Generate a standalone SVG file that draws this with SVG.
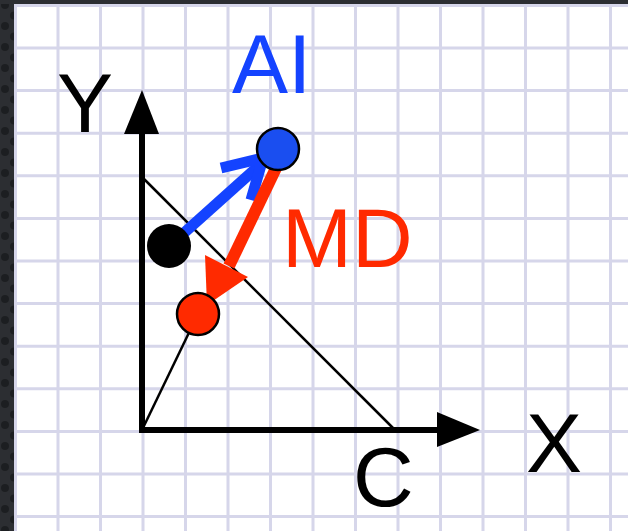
<svg xmlns="http://www.w3.org/2000/svg" width="628" height="531" viewBox="0 0 628 531">
  <defs>
    <pattern id="dots" x="0" y="0" width="14" height="21" patternUnits="userSpaceOnUse">
      <rect width="14" height="21" fill="#2c2e32"/>
      <circle cx="5" cy="5" r="4" fill="#1c1e21"/>
      <circle cx="14" cy="15.5" r="4" fill="#1c1e21"/>
    </pattern>
    <style>
      .grid line { stroke: #d6d6ea; stroke-width: 3; }
      .lbl { font-family: "Liberation Sans", Arial, Helvetica, sans-serif; font-size: 84px; }
      .axis { stroke: #000; stroke-width: 6; fill: none; }
      .thin { stroke: #000; stroke-width: 2.5; fill: none; }
      .dot { stroke: #000; stroke-width: 2.5; }
    </style>
  </defs>

  <!-- background -->
  <rect x="0" y="0" width="628" height="531" fill="url(#dots)"/>
  <rect x="0" y="0" width="628" height="4" fill="#2c2e32"/>
  <rect x="14" y="4" width="614" height="527" fill="#ffffff"/>

  <g class="grid">
    <line x1="15.5" y1="4" x2="15.5" y2="531"/>
    <line x1="58" y1="4" x2="58" y2="531"/>
    <line x1="100.5" y1="4" x2="100.5" y2="531"/>
    <line x1="143" y1="4" x2="143" y2="531"/>
    <line x1="185.5" y1="4" x2="185.5" y2="531"/>
    <line x1="228" y1="4" x2="228" y2="531"/>
    <line x1="270.5" y1="4" x2="270.5" y2="531"/>
    <line x1="313" y1="4" x2="313" y2="531"/>
    <line x1="355.5" y1="4" x2="355.5" y2="531"/>
    <line x1="398" y1="4" x2="398" y2="531"/>
    <line x1="440.5" y1="4" x2="440.5" y2="531"/>
    <line x1="483" y1="4" x2="483" y2="531"/>
    <line x1="525.5" y1="4" x2="525.5" y2="531"/>
    <line x1="568" y1="4" x2="568" y2="531"/>
    <line x1="610.5" y1="4" x2="610.5" y2="531"/>
    <line x1="14" y1="5.5" x2="628" y2="5.5"/>
    <line x1="14" y1="48" x2="628" y2="48"/>
    <line x1="14" y1="90.6" x2="628" y2="90.6"/>
    <line x1="14" y1="133.2" x2="628" y2="133.2"/>
    <line x1="14" y1="175.8" x2="628" y2="175.8"/>
    <line x1="14" y1="218.4" x2="628" y2="218.4"/>
    <line x1="14" y1="261" x2="628" y2="261"/>
    <line x1="14" y1="303.6" x2="628" y2="303.6"/>
    <line x1="14" y1="346.2" x2="628" y2="346.2"/>
    <line x1="14" y1="388.8" x2="628" y2="388.8"/>
    <line x1="14" y1="431.4" x2="628" y2="431.4"/>
    <line x1="14" y1="474" x2="628" y2="474"/>
    <line x1="14" y1="516.6" x2="628" y2="516.6"/>
  </g>

  <g id="connectors">
    <!-- axes -->
    <line class="axis" x1="142" y1="433" x2="142" y2="128"/>
    <polygon points="142,90 124,134 159,134" fill="#000"/>
    <line class="axis" x1="139" y1="430" x2="442" y2="430"/>
    <polygon points="480,430 437,412 437,447" fill="#000"/>
    <!-- diagonal -->
    <line class="thin" x1="142" y1="177" x2="395" y2="430"/>
    <!-- origin to red dot -->
    <line class="thin" x1="142" y1="430" x2="198" y2="314"/>
    <!-- blue AI arrow -->
    <line x1="175" y1="241" x2="262" y2="163" stroke="#1443ff" stroke-width="11"/>
    <polyline points="221,168 263,158 251,200" fill="none" stroke="#1443ff" stroke-width="11" stroke-linejoin="miter"/>
    <!-- red MD arrow -->
    <line x1="277" y1="166" x2="229" y2="266" stroke="#ff2a00" stroke-width="12"/>
    <polygon points="205,255 248,277 207,305" fill="#ff2a00"/>
  </g>

  <g id="node-black">
    <circle cx="169" cy="246" r="22" fill="#000"/>
  </g>
  <g id="node-blue">
    <circle class="dot" cx="278" cy="149" r="21" fill="#1a4ef0"/>
  </g>
  <g id="node-red">
    <circle class="dot" cx="198" cy="314" r="21" fill="#ff2a00"/>
  </g>

  <g id="label-Y"><text class="lbl" x="57" y="132" fill="#000">Y</text></g>
  <g id="label-X"><text class="lbl" x="526" y="472" fill="#000">X</text></g>
  <g id="label-C"><text class="lbl" x="353" y="506" fill="#000">C</text></g>
  <g id="label-AI"><text class="lbl" x="232" y="93" fill="#1443ff">AI</text></g>
  <g id="label-MD"><text class="lbl" x="282" y="267" fill="#ff2a00">MD</text></g>
</svg>
